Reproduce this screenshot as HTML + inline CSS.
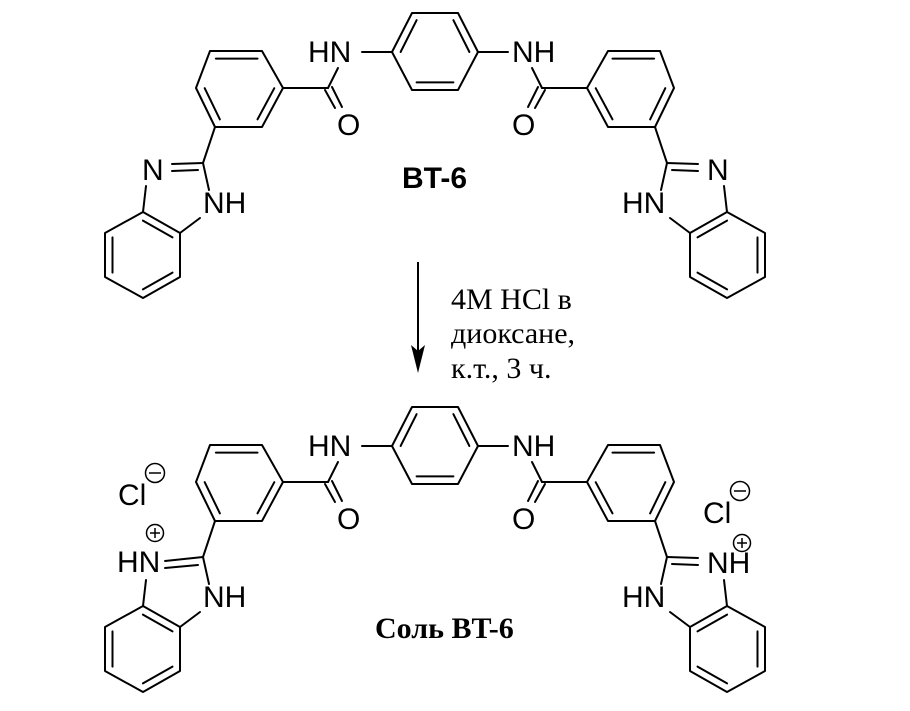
<!DOCTYPE html>
<html><head><meta charset="utf-8"><style>
html,body{margin:0;padding:0;background:#fff;}
svg{display:block;}
.b{stroke:#000;stroke-width:2;fill:none;stroke-linecap:round;stroke-linejoin:round;}
.t{font-family:"Liberation Sans",sans-serif;font-size:30px;fill:#000;}
.r{font-family:"Liberation Serif","Noto Serif CJK SC",serif;font-size:30px;fill:#000;}
</style></head><body>
<svg width="910" height="711" viewBox="0 0 910 711" xmlns="http://www.w3.org/2000/svg">
<defs>
<g id="half" class="b">
  <polygon points="210,51 262,51 283,88 262,127 215,127 196,88"/>
  <line x1="215.9" y1="58.6" x2="257.5" y2="58.6"/>
  <line x1="204.7" y1="88.2" x2="219.9" y2="119.4"/>
  <line x1="274.3" y1="88.2" x2="257.5" y2="119.4"/>
  <line x1="283" y1="88" x2="328" y2="88"/>
  <line x1="328" y1="88" x2="338" y2="68"/>
  <line x1="325" y1="90" x2="335" y2="108"/>
  <line x1="332" y1="87" x2="342" y2="107"/>
  <line x1="362" y1="52" x2="392" y2="52"/>
  <line x1="215" y1="127" x2="203" y2="163"/>
  <line x1="203" y1="163" x2="209" y2="190"/>
  <line x1="146" y1="186" x2="143" y2="212"/>
  <line x1="200" y1="218" x2="180" y2="233"/>
  <polygon points="143,212 180,233 180,277 143,298 105,277 105,233"/>
  <line x1="142.9" y1="220.6" x2="172.5" y2="237.4"/>
  <line x1="172.5" y1="272.6" x2="142.9" y2="289.4"/>
  <line x1="112.5" y1="272.6" x2="112.5" y2="237.4"/>
</g>
<g id="core" class="b">
  <polygon points="392,52 412,13 458,13 478,52 458,90 412,90"/>
  <line x1="400.6" y1="52" x2="416.6" y2="20.2"/>
  <line x1="453.4" y1="20.2" x2="469.4" y2="52"/>
  <line x1="416.6" y1="82.4" x2="453.4" y2="82.4"/>
</g>
<g id="dbl" class="b">
  <line x1="172" y1="164" x2="203" y2="163"/>
  <line x1="172" y1="171" x2="198" y2="170"/>
</g>
</defs>

<use href="#half"/>
<use href="#half" transform="translate(870,0) scale(-1,1)"/>
<use href="#core"/>
<use href="#dbl"/>
<use href="#dbl" transform="translate(870,0) scale(-1,1)"/>
<text class="t" x="308" y="62">HN</text>
<text class="t" x="512" y="62">NH</text>
<text class="t" x="337" y="135">O</text>
<text class="t" x="512" y="135">O</text>
<text class="t" x="142" y="180">N</text>
<text class="t" x="707" y="180">N</text>
<text class="t" x="203" y="213">NH</text>
<text class="t" x="622" y="213">HN</text>
<text class="t" x="402" y="188" style="font-weight:bold">BT-6</text>

<line x1="418" y1="262" x2="418" y2="355" stroke="#000" stroke-width="2"/>
<polygon points="411,345 418,373 425,345 418,351" fill="#000"/>
<text class="r" x="451" y="309">4M HCl в</text>
<text class="r" x="451" y="343">диоксане,</text>
<text class="r" x="451" y="378">к.т., 3 ч.</text>

<g transform="translate(0,394)">
  <use href="#half"/>
  <use href="#half" transform="translate(870,0) scale(-1,1)"/>
  <use href="#core"/>
  <use href="#dbl" transform="translate(870,0) scale(-1,1)"/>
  <g class="b">
    <line x1="165" y1="167" x2="203" y2="163"/>
    <line x1="165" y1="174" x2="198" y2="171"/>
  </g>
</g>
<text class="t" x="308" y="456">HN</text>
<text class="t" x="512" y="456">NH</text>
<text class="t" x="337" y="529">O</text>
<text class="t" x="512" y="529">O</text>
<text class="t" x="203" y="607">NH</text>
<text class="t" x="622" y="607">HN</text>
<text class="t" x="117" y="572">HN</text>
<text class="t" x="707" y="573">NH</text>
<text class="t" x="118" y="505">Cl</text>
<text class="t" x="703" y="523">Cl</text>
<g stroke="#000" stroke-width="1.5" fill="none">
  <circle cx="155" cy="473" r="9.5"/><line x1="149" y1="473" x2="161" y2="473"/>
  <circle cx="740" cy="491" r="9.5"/><line x1="734" y1="491" x2="746" y2="491"/>
  <circle cx="155" cy="533" r="8.5"/><line x1="150" y1="533" x2="160" y2="533"/><line x1="155" y1="528" x2="155" y2="538"/>
  <circle cx="742" cy="543" r="8.5"/><line x1="737" y1="543" x2="747" y2="543"/><line x1="742" y1="538" x2="742" y2="548"/>
</g>
<text class="r" x="375" y="638" style="font-weight:bold">Соль BT-6</text>
</svg>
</body></html>
